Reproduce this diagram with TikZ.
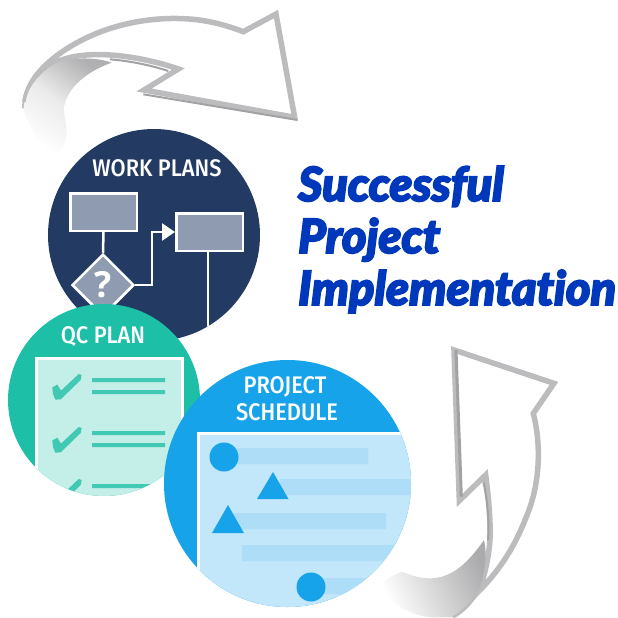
\documentclass[tikz,border=0pt]{standalone}
\usepackage{fontspec}
\setmainfont{Open Sans}
\newfontfamily\labfont[FakeStretch=0.91]{Fira Sans Medium}
\newfontfamily\titlefont[Ligatures=NoCommon,FakeBold=4]{Lato Black Italic}
\usetikzlibrary{shapes.geometric,arrows.meta}
\definecolor{navy}{HTML}{233B63}
\definecolor{slate}{HTML}{8E9BB0}
\definecolor{teal}{HTML}{1DBFA6}
\definecolor{tealmid}{HTML}{42C9B3}
\definecolor{teallight}{HTML}{C4EEE8}
\definecolor{skyb}{HTML}{17A3EA}
\definecolor{skylight}{HTML}{C2E6FA}
\definecolor{skymid}{HTML}{AEDEF7}
\definecolor{titleblue}{HTML}{0038BC}
\definecolor{arrowgray}{HTML}{BCBCBE}
\definecolor{arrowdark}{HTML}{A2A2A4}
\tikzset{
 heading/.style={text=white,font=\labfont\fontsize{24}{24}\selectfont,inner sep=0},
 titleline/.style={text=titleblue,font=\titlefont\fontsize{47}{47}\selectfont,anchor=base west,inner sep=0},
 planbox/.style={draw=white,fill=slate,line width=2.5pt,minimum width=66.5pt,minimum height=37.5pt,inner sep=0},
 link/.style={draw=white,line width=2.5pt},
 rim/.style={draw=arrowgray,line width=5.5pt,line join=miter},
 rimdark/.style={draw=arrowdark,line width=2pt},
 zoomed/.style={x=0.33333pt,y=-0.33333pt}
}
\begin{document}
\begin{tikzpicture}[x=1pt,y=-1pt]
\useasboundingbox (0,0) rectangle (618,618);
% top arrow
\begin{scope}[shift={(0,0)},zoomed]
 \draw[rim,fill=white] (75,325) .. controls (72,270) and (105,220) .. (160,175)
   .. controls (280,80) and (440,45) .. (580,58)
   .. controls (640,64) and (690,80) .. (730,95)
   -- (828,42) -- (884,352) -- (432,270) -- (535,207)
   .. controls (430,170) and (270,145) .. (180,182)
   .. controls (120,210) and (85,260) .. (75,325) -- cycle;
 \draw[rimdark] (430,283) -- (892,360);
 \draw[rimdark] (330,178) .. controls (390,183) and (450,195) .. (505,213);
 \shade[top color=arrowdark!85,bottom color=white,middle color=black!8,shading angle=-35,draw=none]
   (180,184) .. controls (230,172) and (290,172) .. (335,188)
   .. controls (260,215) and (205,260) .. (192,320)
   .. controls (190,350) and (205,385) .. (198,415)
   .. controls (190,440) and (180,455) .. (165,470)
   .. controls (130,440) and (90,390) .. (70,330)
   .. controls (75,265) and (120,210) .. (180,184) -- cycle;
 \draw[draw=arrowgray,line width=3.5pt] (72,305) .. controls (78,255) and (115,215) .. (175,175);
\end{scope}
% work plans
\begin{scope}
 \fill[navy] (154,235) circle (106);
 \clip (154,235) circle (106);
 \node[heading] (wtitle) at (157,168) {WORK PLANS};
 \node[planbox] (wbox1) at (103.5,212) {};
 \node[planbox] (wbox2) at (209.5,232) {};
 \node[diamond,aspect=1,draw=white,fill=slate,line width=2.5pt,minimum width=62pt,minimum height=62pt,inner sep=0,text=white,font=\bfseries\fontsize{36}{36}\selectfont] (wdec) at (103,285) {?};
 \coordinate (wend) at (208,345);
 \draw[link] (wbox1.south) -- (wdec.north);
 \draw[link,-{Triangle[length=13pt,width=17pt]}] (wdec.east) -- (152,285) |- (wbox2.west);
 \draw[link] (wbox2.south -| wend) -- (wend);
\end{scope}
% qc plan
\begin{scope}
 \fill[teal] (104,400) circle (96);
 \clip (104,400) circle (96);
 \node[heading] (qtitle) at (103,337) {QC PLAN};
 \draw[draw=white,fill=teallight,line width=3pt] (36.5,358.5) rectangle (182.5,520);
 \fill[tealmid] (92,378) rectangle (165,382) (92,390) rectangle (165,394)
   (92,431) rectangle (165,435) (92,443) rectangle (165,447)
   (92,484) rectangle (165,488);
 \foreach \dy in {0,53,105}{
  \begin{scope}[shift={(0,300+\dy)},zoomed]
   \fill[tealmid] (157,262) -- (172,254) -- (183,272) -- (236,222) -- (245,225) -- (242,240)
     -- (182,298) -- (166,299) -- (159,282) -- cycle;
  \end{scope}}
\end{scope}
% project schedule
\begin{scope}
 \fill[skyb] (287.5,483.5) circle (123.5);
 \clip (287.5,483.5) circle (123.5);
 \node[heading] (ptitle1) at (285,387) {PROJECT};
 \node[heading] (ptitle2) at (287,412) {SCHEDULE};
 \draw[draw=white,fill=skylight,line width=3pt] (198.5,433.5) rectangle (430,620);
 \fill[skymid] (237,448) rectangle (368,464) (280,479) rectangle (420,495)
   (233,513) rectangle (386,529) (242,545) rectangle (420,561) (323,578) rectangle (370,594);
 \fill[skyb] (224,457) circle (14.5) (311,587) circle (14.5);
 \fill[skyb] (273,472) -- (288.5,499) -- (257,499) -- cycle;
 \fill[skyb] (228,505) -- (244,533) -- (212,533) -- cycle;
\end{scope}
% title
\node[titleline] (t1) at (298,201) {Successful};
\node[titleline] (t2) at (298,253) {Project};
\node[titleline] (t3) at (298,305) {Implementation};
% bottom arrow
\begin{scope}[shift={(370,340)},zoomed]
 \draw[rim,fill=white] (252,30) -- (552,130) -- (490,220)
   .. controls (515,320) and (510,440) .. (465,540)
   .. controls (430,630) and (380,700) .. (325,755)
   .. controls (345,710) and (365,620) .. (360,550)
   .. controls (358,500) and (353,450) .. (347,405)
   -- (268,482) -- cycle;
 \draw[line width=3pt,draw=arrowdark] (258,30) -- (274,470);
 \draw[line width=2pt,draw=arrowdark] (340,425) .. controls (352,480) and (358,540) .. (354,600);
 \shade[top color=arrowdark!90,bottom color=white,shading angle=-65,draw=none]
   (342,600) .. controls (300,660) and (250,715) .. (180,715)
   .. controls (150,715) and (120,705) .. (95,695)
   .. controls (70,705) and (45,720) .. (25,735)
   .. controls (60,790) and (120,830) .. (190,832)
   -- (248,832) .. controls (290,810) and (320,775) .. (332,735)
   .. controls (345,690) and (352,640) .. (342,600) -- cycle;
 \draw[line width=2.5pt,draw=arrowgray] (250,832) .. controls (280,815) and (305,790) .. (325,755);
\end{scope}
\end{tikzpicture}
\end{document}
